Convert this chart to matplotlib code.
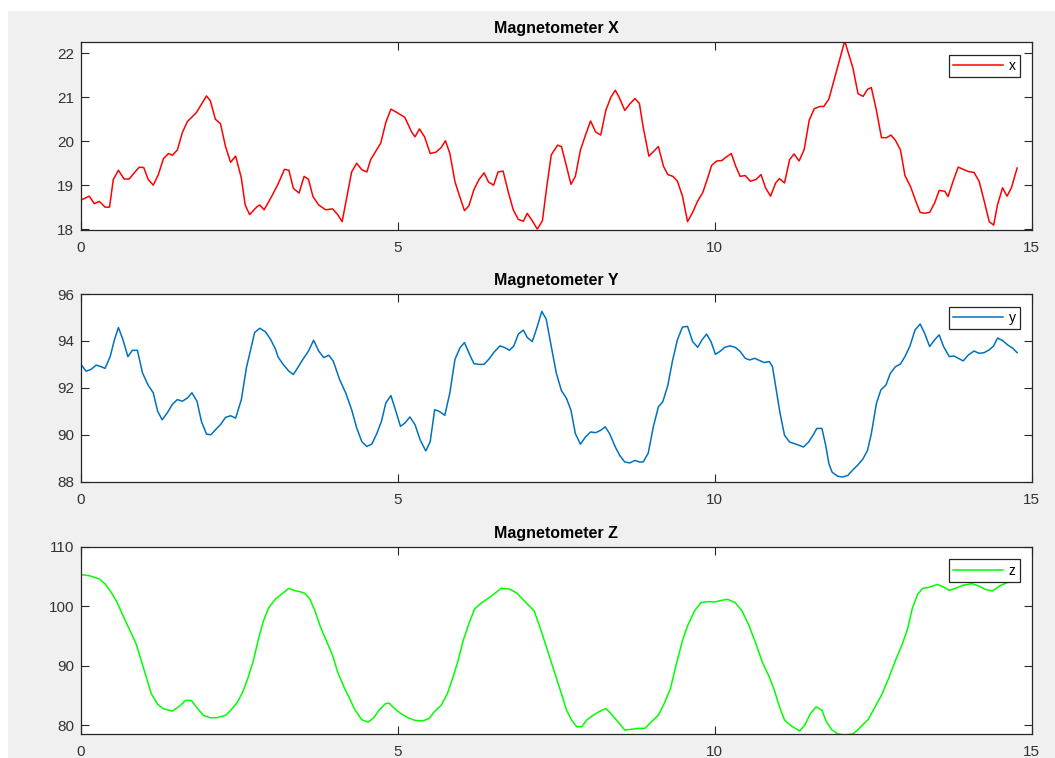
import matplotlib
matplotlib.use("Agg")
import matplotlib.pyplot as plt
from matplotlib.patches import Rectangle

plt.rcParams['font.family'] = ['Liberation Sans', 'DejaVu Sans']

# Magnetometer X (time in s, value)
x_time = [0.00, 0.13, 0.21, 0.29, 0.38, 0.45, 0.51, 0.59, 0.68, 0.76,
          0.84, 0.92, 0.99, 1.06, 1.14, 1.22, 1.30, 1.38, 1.44, 1.52,
          1.60, 1.68, 1.82, 1.98, 2.04, 2.12, 2.20, 2.28, 2.36, 2.44,
          2.53, 2.59, 2.66, 2.77, 2.82, 2.89, 3.01, 3.10, 3.15, 3.21,
          3.28, 3.35, 3.44, 3.52, 3.59, 3.66, 3.75, 3.86, 3.97, 4.05,
          4.12, 4.18, 4.27, 4.35, 4.43, 4.51, 4.57, 4.65, 4.73, 4.81,
          4.89, 5.00, 5.11, 5.22, 5.27, 5.34, 5.42, 5.51, 5.60, 5.68,
          5.75, 5.82, 5.90, 5.98, 6.05, 6.12, 6.20, 6.28, 6.36, 6.43,
          6.51, 6.58, 6.66, 6.74, 6.82, 6.90, 6.98, 7.04, 7.12, 7.20,
          7.28, 7.35, 7.42, 7.52, 7.58, 7.66, 7.73, 7.80, 7.88, 7.96,
          8.04, 8.12, 8.20, 8.28, 8.36, 8.43, 8.49, 8.58, 8.66, 8.74,
          8.81, 8.87, 8.96, 9.03, 9.11, 9.19, 9.26, 9.34, 9.41, 9.49,
          9.57, 9.65, 9.73, 9.81, 9.88, 9.95, 10.03, 10.11, 10.19, 10.26,
          10.33, 10.40, 10.48, 10.56, 10.65, 10.73, 10.80, 10.88, 10.96, 11.02,
          11.10, 11.18, 11.25, 11.33, 11.41, 11.49, 11.57, 11.66, 11.72, 11.80,
          11.88, 11.96, 12.05, 12.18, 12.26, 12.34, 12.41, 12.47, 12.55, 12.63,
          12.71, 12.78, 12.85, 12.93, 13.00, 13.09, 13.17, 13.24, 13.31, 13.39,
          13.47, 13.54, 13.63, 13.68, 13.76, 13.84, 13.92, 14.00, 14.09, 14.17,
          14.25, 14.33, 14.40, 14.46, 14.54, 14.61, 14.68, 14.77]
x_vals = [18.66, 18.75, 18.58, 18.63, 18.50, 18.50, 19.13, 19.34, 19.14, 19.14,
          19.28, 19.41, 19.40, 19.13, 19.00, 19.24, 19.60, 19.72, 19.68, 19.80,
          20.20, 20.45, 20.65, 21.03, 20.92, 20.50, 20.40, 19.88, 19.52, 19.66,
          19.16, 18.55, 18.33, 18.50, 18.55, 18.44, 18.75, 19.00, 19.16, 19.36,
          19.34, 18.93, 18.82, 19.20, 19.13, 18.74, 18.55, 18.44, 18.46, 18.33,
          18.17, 18.62, 19.30, 19.50, 19.35, 19.30, 19.58, 19.77, 19.96, 20.43,
          20.73, 20.64, 20.54, 20.20, 20.10, 20.28, 20.10, 19.72, 19.75, 19.85,
          20.01, 19.72, 19.08, 18.72, 18.42, 18.53, 18.90, 19.13, 19.28, 19.07,
          19.00, 19.30, 19.32, 18.85, 18.44, 18.22, 18.18, 18.36, 18.19, 18.00,
          18.19, 18.98, 19.69, 19.91, 19.88, 19.43, 19.02, 19.20, 19.80, 20.14,
          20.46, 20.21, 20.14, 20.70, 21.00, 21.16, 21.00, 20.70, 20.85, 20.97,
          20.86, 20.32, 19.66, 19.76, 19.88, 19.43, 19.24, 19.20, 19.09, 18.75,
          18.17, 18.38, 18.64, 18.83, 19.13, 19.45, 19.55, 19.56, 19.65, 19.72,
          19.43, 19.20, 19.22, 19.09, 19.13, 19.24, 18.94, 18.75, 19.05, 19.15,
          19.05, 19.58, 19.71, 19.55, 19.81, 20.48, 20.74, 20.79, 20.79, 20.96,
          21.38, 21.80, 22.28, 21.66, 21.08, 21.02, 21.18, 21.22, 20.70, 20.08,
          20.08, 20.14, 20.02, 19.80, 19.22, 18.96, 18.64, 18.38, 18.36, 18.38,
          18.60, 18.88, 18.86, 18.74, 19.09, 19.41, 19.36, 19.31, 19.29, 19.09,
          18.64, 18.17, 18.09, 18.55, 18.94, 18.75, 18.94, 19.39]

# Magnetometer Y
y_time = [0.00, 0.08, 0.16, 0.24, 0.32, 0.38, 0.46, 0.53, 0.59, 0.66,
          0.74, 0.81, 0.89, 0.97, 1.06, 1.14, 1.21, 1.28, 1.36, 1.44,
          1.52, 1.60, 1.68, 1.75, 1.83, 1.90, 1.98, 2.05, 2.12, 2.20,
          2.28, 2.36, 2.44, 2.53, 2.61, 2.69, 2.74, 2.82, 2.91, 2.99,
          3.07, 3.11, 3.19, 3.28, 3.35, 3.42, 3.50, 3.59, 3.67, 3.75,
          3.83, 3.91, 3.98, 4.08, 4.18, 4.27, 4.35, 4.43, 4.51, 4.59,
          4.67, 4.74, 4.81, 4.89, 4.96, 5.04, 5.11, 5.19, 5.27, 5.35,
          5.44, 5.51, 5.58, 5.65, 5.74, 5.82, 5.90, 5.98, 6.05, 6.13,
          6.20, 6.28, 6.36, 6.44, 6.52, 6.61, 6.69, 6.76, 6.83, 6.90,
          6.98, 7.04, 7.12, 7.20, 7.27, 7.34, 7.42, 7.50, 7.58, 7.66,
          7.73, 7.80, 7.88, 7.96, 8.04, 8.12, 8.20, 8.27, 8.34, 8.43,
          8.50, 8.58, 8.66, 8.74, 8.81, 8.87, 8.95, 9.03, 9.11, 9.18,
          9.26, 9.33, 9.41, 9.49, 9.57, 9.65, 9.73, 9.80, 9.87, 9.94,
          10.01, 10.08, 10.16, 10.24, 10.32, 10.40, 10.48, 10.55, 10.63, 10.71,
          10.78, 10.86, 10.91, 10.97, 11.03, 11.10, 11.18, 11.26, 11.33, 11.40,
          11.48, 11.55, 11.61, 11.69, 11.75, 11.80, 11.85, 11.94, 12.02, 12.10,
          12.18, 12.26, 12.34, 12.41, 12.47, 12.55, 12.62, 12.70, 12.77, 12.85,
          12.93, 13.00, 13.08, 13.16, 13.24, 13.31, 13.39, 13.47, 13.54, 13.61,
          13.70, 13.77, 13.84, 13.92, 14.00, 14.09, 14.17, 14.25, 14.33, 14.40,
          14.46, 14.54, 14.62, 14.70, 14.77]
y_vals = [93.00, 92.71, 92.79, 92.97, 92.90, 92.83, 93.33, 94.07, 94.57, 94.07,
          93.33, 93.60, 93.60, 92.64, 92.11, 91.79, 91.00, 90.64, 90.93, 91.29,
          91.50, 91.43, 91.57, 91.79, 91.43, 90.57, 90.03, 90.00, 90.21, 90.43,
          90.74, 90.81, 90.71, 91.50, 92.86, 93.79, 94.36, 94.54, 94.39, 94.07,
          93.64, 93.31, 93.00, 92.71, 92.57, 92.86, 93.21, 93.57, 94.03, 93.57,
          93.29, 93.39, 93.14, 92.36, 91.76, 91.07, 90.29, 89.71, 89.50, 89.61,
          90.07, 90.57, 91.36, 91.67, 91.07, 90.36, 90.50, 90.76, 90.43, 89.79,
          89.31, 89.71, 91.07, 91.00, 90.83, 91.79, 93.21, 93.71, 93.93, 93.43,
          93.03, 93.00, 93.00, 93.24, 93.53, 93.79, 93.71, 93.60, 93.79, 94.29,
          94.46, 94.15, 93.97, 94.62, 95.26, 94.93, 93.76, 92.62, 91.88, 91.55,
          91.05, 90.05, 89.60, 89.91, 90.12, 90.09, 90.19, 90.34, 90.05, 89.48,
          89.12, 88.84, 88.80, 88.91, 88.84, 88.84, 89.22, 90.34, 91.19, 91.41,
          92.12, 93.12, 94.05, 94.59, 94.62, 93.97, 93.73, 94.05, 94.29, 93.97,
          93.43, 93.55, 93.73, 93.79, 93.73, 93.55, 93.26, 93.19, 93.26, 93.16,
          93.08, 93.12, 92.90, 91.91, 90.91, 89.98, 89.69, 89.62, 89.55, 89.48,
          89.69, 89.98, 90.27, 90.27, 89.55, 88.77, 88.41, 88.23, 88.20, 88.27,
          88.51, 88.72, 88.98, 89.34, 90.05, 91.34, 91.91, 92.12, 92.62, 92.90,
          93.02, 93.33, 93.79, 94.47, 94.72, 94.33, 93.76, 94.05, 94.26, 93.76,
          93.33, 93.36, 93.26, 93.15, 93.40, 93.57, 93.47, 93.50, 93.62, 93.79,
          94.12, 94.02, 93.83, 93.69, 93.50]

# Magnetometer Z
z_time = [0.00, 0.13, 0.29, 0.38, 0.46, 0.57, 0.65, 0.76, 0.87, 0.95,
          1.03, 1.11, 1.21, 1.30, 1.44, 1.55, 1.65, 1.74, 1.82, 1.93,
          2.04, 2.14, 2.28, 2.36, 2.47, 2.55, 2.63, 2.72, 2.80, 2.88,
          2.96, 3.07, 3.18, 3.28, 3.37, 3.45, 3.53, 3.61, 3.69, 3.78,
          3.87, 3.97, 4.05, 4.15, 4.24, 4.32, 4.43, 4.53, 4.62, 4.70,
          4.80, 4.86, 4.95, 5.05, 5.16, 5.27, 5.38, 5.49, 5.57, 5.68,
          5.78, 5.87, 5.95, 6.03, 6.12, 6.21, 6.31, 6.41, 6.52, 6.63,
          6.76, 6.88, 6.99, 7.15, 7.26, 7.37, 7.47, 7.58, 7.66, 7.74,
          7.82, 7.90, 7.98, 8.06, 8.17, 8.28, 8.36, 8.47, 8.58, 8.68,
          8.79, 8.90, 9.00, 9.11, 9.19, 9.30, 9.38, 9.49, 9.57, 9.68,
          9.78, 9.89, 10.00, 10.11, 10.20, 10.32, 10.43, 10.54, 10.65, 10.75,
          10.86, 10.94, 11.02, 11.10, 11.21, 11.34, 11.42, 11.51, 11.60, 11.69,
          11.76, 11.84, 11.94, 12.04, 12.18, 12.28, 12.42, 12.53, 12.63, 12.74,
          12.85, 12.96, 13.04, 13.12, 13.20, 13.28, 13.39, 13.51, 13.60, 13.70,
          13.82, 13.92, 14.06, 14.17, 14.27, 14.38, 14.49, 14.60, 14.68, 14.77]
z_vals = [105.30, 105.14, 104.58, 103.74, 102.63, 100.67, 98.72, 96.20, 93.69, 90.89,
          88.10, 85.30, 83.52, 82.79, 82.40, 83.18, 84.19, 84.19, 83.07, 81.68,
          81.28, 81.28, 81.68, 82.51, 83.91, 85.59, 87.82, 90.89, 94.53, 97.60,
          99.72, 101.23, 102.18, 103.02, 102.63, 102.46, 102.18, 101.23, 99.27, 96.48,
          94.25, 91.73, 88.94, 86.42, 84.47, 82.63, 80.95, 80.56, 81.28, 82.51,
          83.63, 83.74, 82.79, 81.96, 81.28, 80.84, 80.73, 81.12, 82.23, 83.35,
          85.31, 88.10, 90.89, 94.25, 97.04, 99.55, 100.50, 101.23, 102.07, 103.02,
          102.90, 102.18, 100.95, 99.22, 95.89, 92.28, 88.94, 85.33, 82.56, 80.89,
          79.78, 79.78, 80.89, 81.56, 82.28, 82.83, 82.00, 80.61, 79.22, 79.33,
          79.50, 79.50, 80.61, 81.72, 83.39, 86.17, 89.78, 94.22, 96.72, 99.22,
          100.61, 100.78, 100.72, 101.00, 101.17, 100.61, 99.22, 96.72, 93.67, 90.61,
          88.11, 85.89, 83.11, 80.89, 79.89, 79.06, 80.06, 82.00, 83.11, 82.56,
          80.61, 79.33, 78.56, 78.39, 78.56, 79.50, 81.00, 83.11, 85.06, 87.83,
          90.89, 93.67, 96.17, 99.78, 102.00, 103.00, 103.22, 103.67, 103.28, 102.67,
          103.11, 103.56, 103.78, 103.39, 102.83, 102.56, 103.39, 103.94, 104.11, 104.30]

W, H = 1055, 758
fig = plt.figure(figsize=(W / 100, H / 100), dpi=100)
fig.patch.set_facecolor('white')
fig.add_artist(Rectangle((8 / W, 0), 1 - 8 / W, 1 - 11 / H, transform=fig.transFigure,
                         facecolor='#f0f0f0', edgecolor='none', zorder=-10))

panels = [
    (x_time, x_vals, '#ff0000', 'x', 'Magnetometer X', 42.3, 230.0, (17.98, 22.25), [18, 19, 20, 21, 22]),
    (y_time, y_vals, '#0072bd', 'y', 'Magnetometer Y', 294.0, 481.7, (88, 96), [88, 90, 92, 94, 96]),
    (z_time, z_vals, '#00ff00', 'z', 'Magnetometer Z', 546.7, 734.3, (78.5, 110), [80, 90, 100, 110]),
]

left, right = 81.0, 1031.7
dark = '#262626'
for t, v, color, label, title, top, bottom, ylim, yticks in panels:
    ax = fig.add_axes([left / W, (H - bottom) / H, (right - left) / W, (bottom - top) / H])
    ax.plot(t, v, color=color, linewidth=1.1, label=label)
    ax.set_xlim(0, 15)
    ax.set_ylim(*ylim)
    ax.set_xticks([0, 5, 10, 15])
    ax.set_yticks(yticks)
    ax.set_title(title, fontsize=11.5, fontweight='bold', pad=6.5)
    ax.tick_params(direction='in', top=True, right=True, length=6, width=0.8,
                   colors=dark, labelsize=11, labelcolor='#333333')
    ax.tick_params(axis='x', pad=8)
    ax.tick_params(axis='y', pad=5)
    for s in ax.spines.values():
        s.set_color(dark)
        s.set_linewidth(0.9)
    leg = ax.legend(loc='upper right', bbox_to_anchor=(0.9877, 0.932), borderaxespad=0,
                    fontsize=10, handlelength=3.6, handletextpad=0.4, borderpad=0.3,
                    fancybox=False, framealpha=1, edgecolor=dark)
    leg.get_frame().set_linewidth(0.9)

fig.savefig('out.png', dpi=100)
